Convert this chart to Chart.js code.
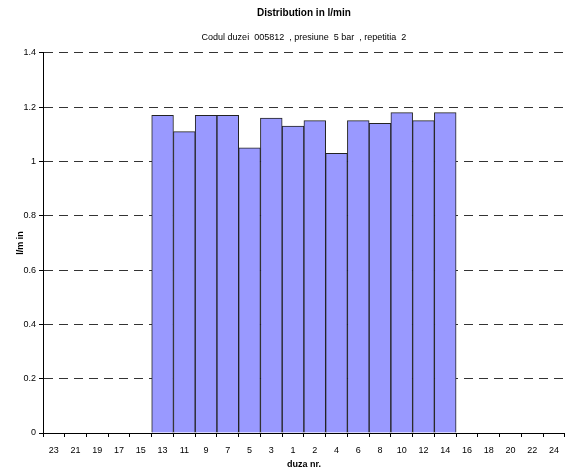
<!DOCTYPE html>
<html lang="ro">
<head>
  <meta charset="UTF-8">
  <title>Distribution in l/min</title>
  <script src="https://cdn.jsdelivr.net/npm/chart.js"></script>
  <style>
    body { margin: 0; background: #fff; }
  </style>
</head>
<body>
  <canvas id="myChart" width="567" height="474"></canvas>
  <script>
    // duze, in ordinea de pe axa
    const duze = ['23','21','19','17','15','13','11','9','7','5','3','1','2','4','6','8','10','12','14','16','18','20','22','24'];
    // debit l/min (null = fara masuratoare)
    const debit = [null, null, null, null, null,
      1.17, 1.11, 1.17, 1.17, 1.05, 1.16, 1.13, 1.15, 1.03, 1.15, 1.14, 1.18, 1.15, 1.18,
      null, null, null, null, null];
    // etichete axa y
    const yTicks = [0, 0.2, 0.4, 0.6, 0.8, 1, 1.2, 1.4];

    const font = "'Liberation Sans Narrow', 'Liberation Sans', Arial, sans-serif";
    Chart.defaults.font.family = font;
    Chart.defaults.color = '#000';

    const ctx = document.getElementById('myChart').getContext('2d');
    const myChart = new Chart(ctx, {
      type: 'bar',
      data: {
        labels: duze,
        datasets: [{
          data: debit,
          backgroundColor: '#9999ff',
          borderColor: '#222',
          borderWidth: 1,
          barPercentage: 1,
          categoryPercentage: 1
        }]
      },
      options: {
        responsive: false,
        animation: false,
        layout: { padding: { left: 0, right: 0, top: 0, bottom: 0 } },
        plugins: {
          legend: { display: false },
          tooltip: { enabled: false },
          title: {
            display: true,
            text: 'Distribution in l/min',
            fullSize: false,
            font: { size: 10, weight: 'bold' },
            padding: { top: 7, bottom: 13 }
          },
          subtitle: {
            display: true,
            text: 'Codul duzei  005812  , presiune  5 bar  , repetitia  2',
            fullSize: false,
            font: { size: 9 },
            padding: { top: 0, bottom: 10 }
          }
        },
        scales: {
          x: {
            grid: { drawOnChartArea: false, tickLength: 4, tickColor: '#000' },
            border: { color: '#000', width: 1 },
            ticks: { autoSkip: false, maxRotation: 0, padding: 8, font: { size: 9 } },
            title: { display: true, text: 'duza nr.', font: { size: 9, weight: 'bold' }, padding: { top: 3, bottom: 4 } },
            afterFit: (scale) => { scale.height = 41; }
          },
          y: {
            min: 0,
            max: 1.4,
            afterBuildTicks: (scale) => { scale.ticks = yTicks.map(v => ({ value: v })); },
            ticks: { padding: 3, font: { size: 9 }, callback: (v) => String(v) },
            grid: { color: '#333', lineWidth: 1, tickLength: 4, tickColor: '#000', tickBorderDash: [] },
            border: { color: '#000', width: 1, dash: [9, 6] },
            title: { display: true, text: 'l/m in', font: { size: 9, weight: 'bold' }, padding: { top: 15, bottom: 0 } },
            afterFit: (scale) => { scale.width = 43; }
          }
        }
      }
    });
  </script>
</body>
</html>
